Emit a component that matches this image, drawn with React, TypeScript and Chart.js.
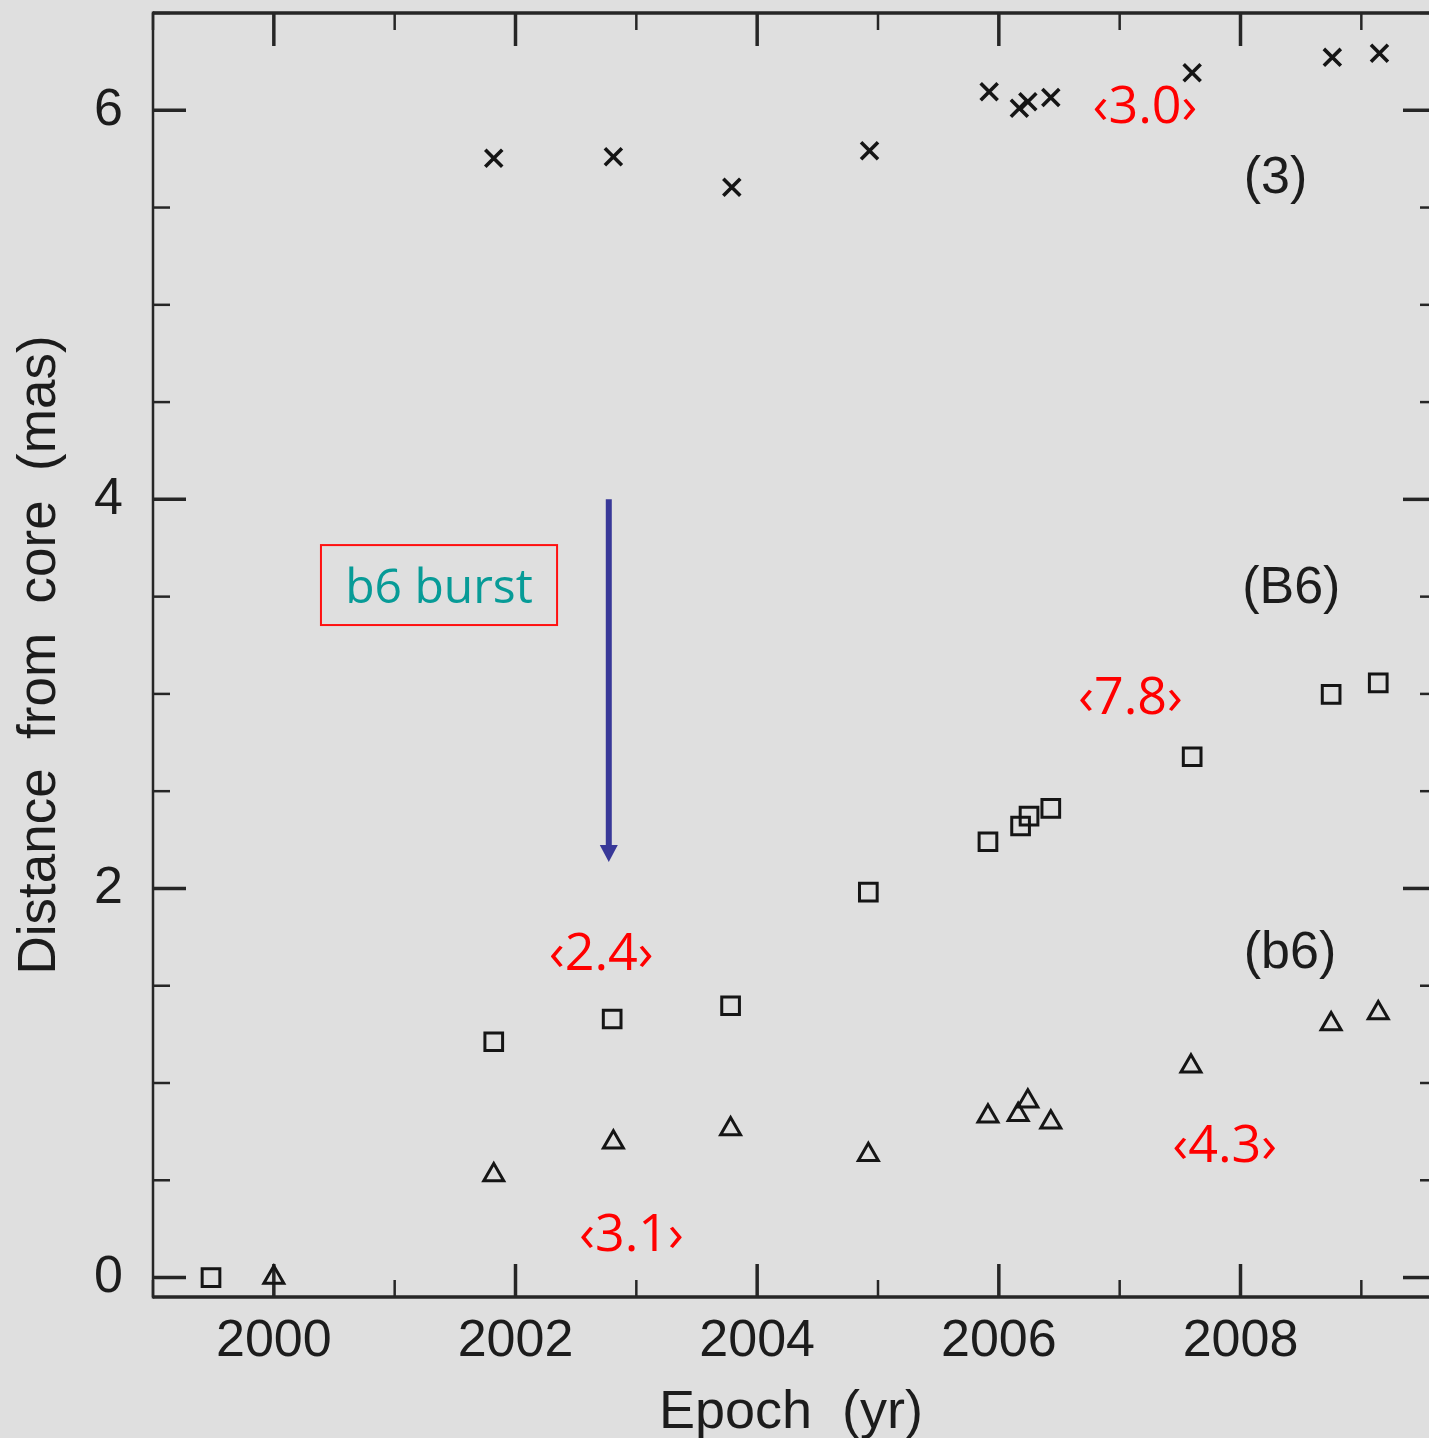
import React, { useEffect, useRef } from "react";
import { Chart, registerables } from "chart.js";

Chart.register(...registerables);

// ---------- data ----------
// component (3): crosses
const epochs3 = [2001.82, 2002.81, 2003.79, 2004.93, 2005.92, 2006.17, 2006.24, 2006.43, 2007.6, 2008.76, 2009.15];
const dist3 = [5.753, 5.761, 5.604, 5.792, 6.095, 6.01, 6.044, 6.066, 6.193, 6.272, 6.293];

// component (B6): squares
const epochsB6 = [1999.48, 2001.82, 2002.8, 2003.78, 2004.92, 2005.91, 2006.18, 2006.25, 2006.43, 2007.6, 2008.75, 2009.14];
const distB6 = [0.0, 1.212, 1.329, 1.397, 1.981, 2.24, 2.321, 2.372, 2.412, 2.677, 2.998, 3.057];

// component (b6): triangles
const epochsb6 = [2000.0, 2001.82, 2002.81, 2003.78, 2004.92, 2005.91, 2006.16, 2006.24, 2006.43, 2007.59, 2008.75, 2009.14];
const distb6 = [0.0, 0.527, 0.695, 0.763, 0.631, 0.829, 0.837, 0.906, 0.798, 1.086, 1.303, 1.36];

// ticks
const xTickValues = [2000, 2002, 2004, 2006, 2008];
const yTickValues = [0, 2, 4, 6];

// red speed annotations (text, epoch, distance of baseline)
const noteTexts = ["\u20393.0\u203A", "\u20397.8\u203A", "\u20392.4\u203A", "\u20394.3\u203A", "\u20393.1\u203A"];
const noteX = [2007.21, 2007.09, 2002.71, 2007.87, 2002.96];
const noteY = [5.934, 2.896, 1.581, 0.594, 0.136];

// component labels
const compLabels = ["(3)", "(B6)", "(b6)"];
const compX = [2008.29, 2008.42, 2008.41];
const compY = [5.574, 3.467, 1.591];

// burst marker
const burstText = "b6 burst";
const burstTextPos = [2001.367, 3.467];
const burstBox = [2000.39, 3.765, 2002.344, 3.354];
const arrowX = 2002.772;
const arrowTop = 4.0;
const arrowTip = 2.136;

const BG = "#dfdfdf";
const INK = "#1c1c1c";
const AXIS = "#262626";

const pgPlugin = {
  id: "pgAxes",
  beforeDraw(chart: any) {
    const { ctx, width, height } = chart;
    ctx.save();
    ctx.fillStyle = BG;
    ctx.fillRect(0, 0, width, height);
    ctx.restore();
  },
  beforeDatasetsDraw(chart: any) {
    const { ctx, chartArea: a, scales } = chart;
    const xs = scales.x;
    const ys = scales.y;
    ctx.save();
    ctx.strokeStyle = AXIS;
    ctx.lineCap = "butt";
    const seg = (x1: number, y1: number, x2: number, y2: number, w: number) => {
      ctx.lineWidth = w;
      ctx.beginPath();
      ctx.moveTo(x1, y1);
      ctx.lineTo(x2, y2);
      ctx.stroke();
    };
    // frame
    seg(a.left, a.top, a.right, a.top, 3.5);
    seg(a.left, a.bottom, a.right, a.bottom, 3.5);
    seg(a.left, a.top - 1.5, a.left, a.bottom + 1.5, 2.5);
    // x ticks (every year, major every 2)
    for (let v = Math.ceil(xs.min); v <= xs.max; v += 1) {
      const p = xs.getPixelForValue(v);
      const major = xTickValues.includes(v);
      const len = major ? 33 : 17;
      const w = major ? 3.5 : 2.5;
      seg(p, a.bottom, p, a.bottom - len, w);
      seg(p, a.top, p, a.top + len, w);
    }
    // y ticks (every 0.5, major every 2)
    for (let i = 0; i * 0.5 <= ys.max; i++) {
      const v = i * 0.5;
      const p = ys.getPixelForValue(v);
      const major = yTickValues.includes(v);
      const w = major ? 3.5 : 2.5;
      seg(a.left, p, a.left + (major ? 33 : 17), p, w);
      seg(a.right, p, a.right - (major ? 26 : 9), p, w);
    }
    ctx.restore();
  },
  afterDatasetsDraw(chart: any) {
    const { ctx, scales } = chart;
    const xs = scales.x;
    const ys = scales.y;
    ctx.save();
    ctx.textAlign = "center";
    ctx.textBaseline = "alphabetic";

    ctx.fillStyle = "#ff0000";
    ctx.font = '500 52px "Open Sans"';
    noteTexts.forEach((t, i) => {
      ctx.fillText(t, xs.getPixelForValue(noteX[i]), ys.getPixelForValue(noteY[i]));
    });

    ctx.fillStyle = INK;
    ctx.font = '52px "Liberation Sans"';
    compLabels.forEach((t, i) => {
      ctx.fillText(t, xs.getPixelForValue(compX[i]), ys.getPixelForValue(compY[i]));
    });

    // box
    const bx1 = xs.getPixelForValue(burstBox[0]);
    const by1 = ys.getPixelForValue(burstBox[1]);
    const bx2 = xs.getPixelForValue(burstBox[2]);
    const by2 = ys.getPixelForValue(burstBox[3]);
    ctx.strokeStyle = "#ff1010";
    ctx.lineWidth = 2;
    ctx.strokeRect(bx1, by1, bx2 - bx1, by2 - by1);
    ctx.fillStyle = "#079b97";
    ctx.font = '500 48px "Open Sans"';
    ctx.fillText(burstText, xs.getPixelForValue(burstTextPos[0]), ys.getPixelForValue(burstTextPos[1]));

    // arrow
    const ax = xs.getPixelForValue(arrowX);
    const ay1 = ys.getPixelForValue(arrowTop);
    const ay2 = ys.getPixelForValue(arrowTip);
    const head = 17;
    ctx.strokeStyle = "#383898";
    ctx.fillStyle = "#383898";
    ctx.lineWidth = 6;
    ctx.beginPath();
    ctx.moveTo(ax, ay1);
    ctx.lineTo(ax, ay2 - head + 1);
    ctx.stroke();
    ctx.beginPath();
    ctx.moveTo(ax - 9, ay2 - head);
    ctx.lineTo(ax + 9, ay2 - head);
    ctx.lineTo(ax, ay2);
    ctx.closePath();
    ctx.fill();
    ctx.restore();
  },
};

const toPoints = (xs: number[], ys: number[]) => xs.map((x, i) => ({ x, y: ys[i] }));

const zeroPad = (s: any) => {
  s.paddingTop = 0;
  s.paddingBottom = 0;
  s.paddingLeft = 0;
  s.paddingRight = 0;
};

export default function App() {
  const ref = useRef<HTMLCanvasElement>(null);
  useEffect(() => {
    document.body.style.margin = "0";
    document.body.style.background = BG;
    const common = {
      showLine: false,
      borderColor: "#151515",
      backgroundColor: "rgba(0,0,0,0)",
    };
    const chart = new Chart(ref.current!, {
      type: "scatter",
      data: {
        datasets: [
          { ...common, label: "(3)", data: toPoints(epochs3, dist3), pointStyle: "crossRot", pointRadius: 12, borderWidth: 3.6, pointBorderWidth: 3.6 },
          { ...common, label: "(B6)", data: toPoints(epochsB6, distB6), pointStyle: "rect", pointRadius: 12.5, borderWidth: 3, pointBorderWidth: 3 },
          { ...common, label: "(b6)", data: toPoints(epochsb6, distb6), pointStyle: "triangle", pointRadius: 11.5, borderWidth: 3, pointBorderWidth: 3 },
        ],
      },
      options: {
        responsive: false,
        animation: false,
        devicePixelRatio: 1,
        events: [],
        layout: { autoPadding: false, padding: { top: 13, left: 0, right: 0, bottom: 0 } },
        plugins: { legend: { display: false }, tooltip: { enabled: false } },
        scales: {
          x: {
            type: "linear",
            position: "bottom",
            min: 1999.0,
            max: 2009.56,
            afterFit: (s: any) => {
              s.height = 141;
              zeroPad(s);
            },
            afterBuildTicks: (s: any) => {
              s.ticks = xTickValues.map((v) => ({ value: v }));
            },
            grid: { display: false, drawTicks: false },
            border: { display: false },
            ticks: {
              font: { family: "Liberation Sans", size: 52 },
              color: INK,
              padding: 13,
              maxRotation: 0,
              autoSkip: false,
              callback: (v: any) => String(v),
            },
            title: {
              display: true,
              text: "Epoch  (yr)",
              color: INK,
              font: { family: "Liberation Sans", size: 54, lineHeight: 1 },
              padding: { top: 0, bottom: -2 },
            },
          },
          y: {
            type: "linear",
            position: "left",
            min: -0.1,
            max: 6.5,
            afterFit: (s: any) => {
              s.width = 153;
              zeroPad(s);
            },
            afterBuildTicks: (s: any) => {
              s.ticks = yTickValues.map((v) => ({ value: v }));
            },
            grid: { display: false, drawTicks: false },
            border: { display: false },
            ticks: {
              font: { family: "Liberation Sans", size: 52 },
              color: INK,
              padding: 30,
              autoSkip: false,
              callback: (v: any) => String(v),
            },
            title: {
              display: true,
              text: "Distance  from  core  (mas)",
              color: INK,
              font: { family: "Liberation Sans", size: 53, lineHeight: 1 },
              padding: { top: 14, bottom: 0 },
            },
          },
        },
      },
      plugins: [pgPlugin],
    } as any);
    return () => chart.destroy();
  }, []);
  return (
    <div style={{ position: "absolute", left: 0, top: 0, width: 1429, height: 1438, overflow: "hidden", background: BG }}>
      <canvas ref={ref} width={1429} height={1438} style={{ display: "block", width: 1429, height: 1438 }} />
    </div>
  );
}
